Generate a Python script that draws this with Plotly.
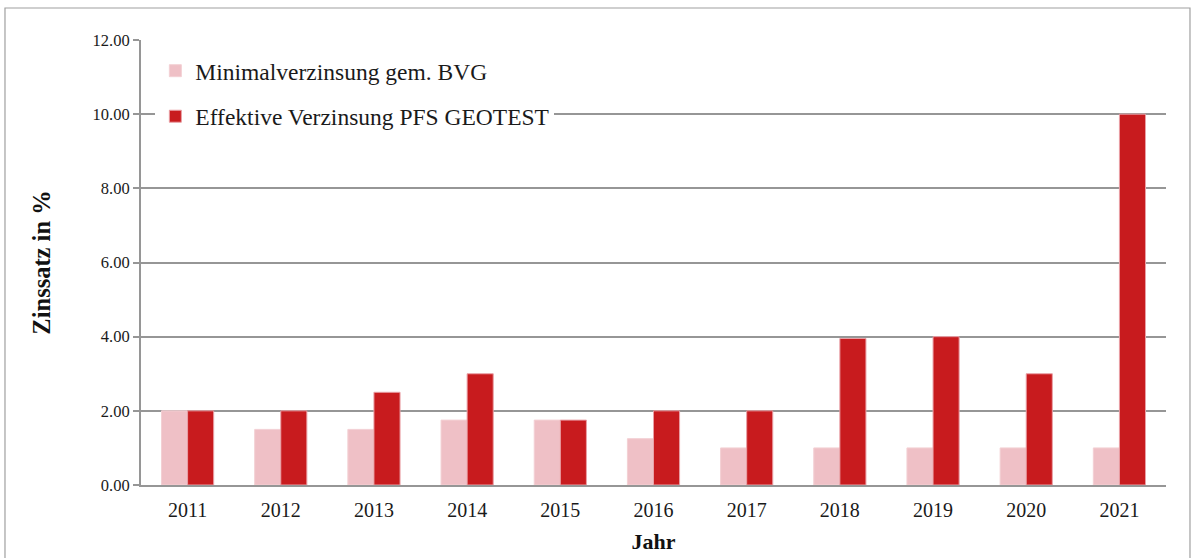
import plotly.graph_objects as go

years = ["2011", "2012", "2013", "2014", "2015", "2016", "2017", "2018", "2019", "2020", "2021"]
min_rate = [2.0, 1.5, 1.5, 1.75, 1.75, 1.25, 1.0, 1.0, 1.0, 1.0, 1.0]
eff_rate = [2.0, 2.0, 2.5, 3.0, 1.75, 2.0, 2.0, 3.95, 4.0, 3.0, 10.0]
y_ticks = [0, 2, 4, 6, 8, 10, 12]
y_labels = ["0.00", "2.00", "4.00", "6.00", "8.00", "10.00", "12.00"]

FONT = "Liberation Serif"
PINK = "#EFC0C6"
RED = "#C81B1E"
GRID = "#969696"

fig = go.Figure()
fig.add_trace(go.Bar(x=years, y=min_rate, name="Minimalverzinsung gem. BVG",
                     marker=dict(color=PINK, line=dict(color="#F3D0D4", width=1)),
                     legendgroup="a"))
fig.add_trace(go.Bar(x=years, y=eff_rate, name="Effektive Verzinsung PFS GEOTEST",
                     marker=dict(color=RED, line=dict(color="#E9A0A6", width=1)),
                     legendgroup="b"))

fig.update_layout(
    width=1194, height=558,
    margin=dict(l=141, r=28, t=40, b=73),
    paper_bgcolor="white", plot_bgcolor="white",
    barmode="group", bargap=0.44, bargroupgap=0,
    font=dict(family=FONT, color="#1a1a1a"),
    showlegend=True,
    legend=dict(x=0.014, y=0.98, xanchor="left", yanchor="top",
                bgcolor="white", font=dict(size=23.5, family=FONT, color="#1a1a1a"),
                traceorder="grouped", tracegroupgap=12, itemwidth=30),
    xaxis=dict(showgrid=False, showline=True, linecolor=GRID, linewidth=2,
               ticks="", tickfont=dict(size=20, family=FONT), ticklabelstandoff=6,
               automargin=False,
               title=dict(text="<b>Jahr</b>", font=dict(size=22, family=FONT, color="#111"), standoff=14)),
    yaxis=dict(range=[0, 12], tickvals=y_ticks, ticktext=y_labels,
               showgrid=True, gridcolor=GRID, gridwidth=1.5,
               showline=True, linecolor=GRID, linewidth=2,
               ticks="outside", ticklen=6, tickcolor=GRID, tickwidth=1.5,
               tickfont=dict(size=16.5, family=FONT),
               zeroline=False, automargin=False,
               title=dict(text="<b>Zinssatz in %</b>", font=dict(size=24.5, family=FONT, color="#111"), standoff=35)),
    shapes=[dict(type="rect", xref="paper", yref="paper",
                 x0=-0.1327, x1=1.0234, y0=-0.3, y1=1.0719,
                 line=dict(color="#A0A0A0", width=1.2), layer="below")],
)

fig.write_html("out.html", config={"displayModeBar": False},
               post_script="document.body.style.margin='0';")
